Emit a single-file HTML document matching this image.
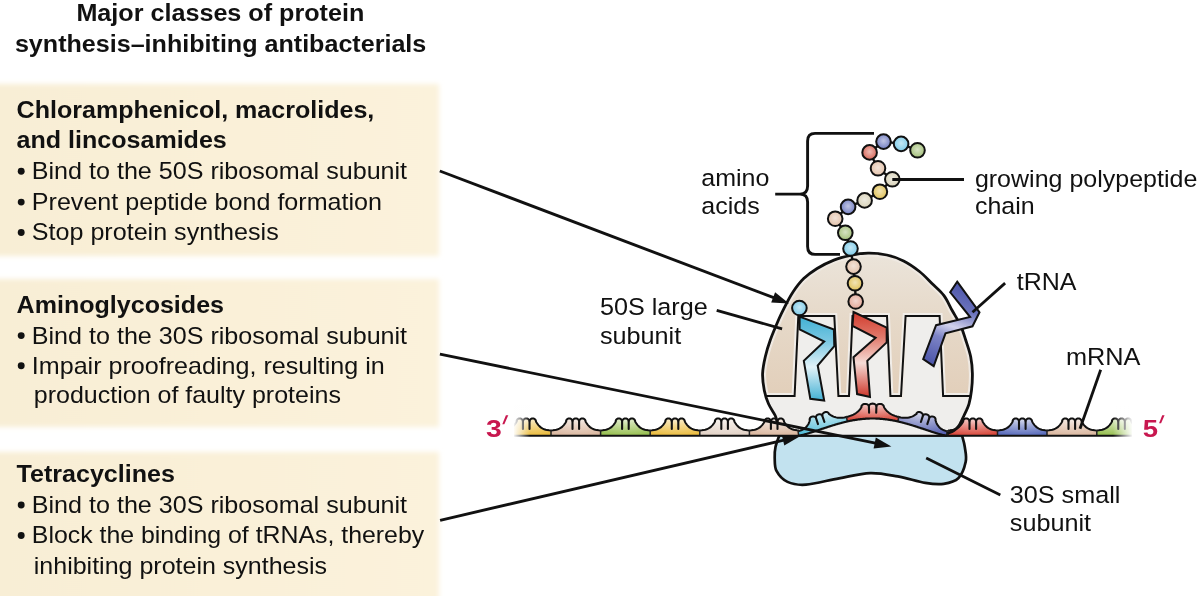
<!DOCTYPE html>
<html><head><meta charset="utf-8"><style>
html,body{margin:0;padding:0;background:#fff;}
body{width:1198px;height:596px;position:relative;overflow:hidden;font-family:"Liberation Sans",sans-serif;}
svg{will-change:transform;}
</style></head><body>
<svg width="1198" height="596" viewBox="0 0 1198 596" style="position:absolute;left:0;top:0">
<defs>
<radialGradient id="g_yellow" cx="0.5" cy="0" r="1"><stop offset="0" stop-color="#fbf1d8"/><stop offset="0.4" stop-color="#f4da95"/><stop offset="1" stop-color="#ebbd40"/></radialGradient><radialGradient id="g_peach" cx="0.5" cy="0" r="1"><stop offset="0" stop-color="#f7f0ec"/><stop offset="0.4" stop-color="#ebd7ca"/><stop offset="1" stop-color="#dbb8a0"/></radialGradient><radialGradient id="g_green" cx="0.5" cy="0" r="1"><stop offset="0" stop-color="#eaf2dc"/><stop offset="0.4" stop-color="#c6dc9f"/><stop offset="1" stop-color="#98c052"/></radialGradient><radialGradient id="g_cream" cx="0.5" cy="0" r="1"><stop offset="0" stop-color="#f9f6f3"/><stop offset="0.4" stop-color="#efe6df"/><stop offset="1" stop-color="#e2d2c6"/></radialGradient><radialGradient id="g_cyan" cx="0.5" cy="0" r="1"><stop offset="0" stop-color="#dcf1f7"/><stop offset="0.4" stop-color="#9fdae9"/><stop offset="1" stop-color="#52bcd8"/></radialGradient><radialGradient id="g_red" cx="0.5" cy="0" r="1"><stop offset="0" stop-color="#f7dad7"/><stop offset="0.4" stop-color="#e99992"/><stop offset="1" stop-color="#d8473a"/></radialGradient><radialGradient id="g_purple" cx="0.5" cy="0" r="1"><stop offset="0" stop-color="#dddfef"/><stop offset="0.4" stop-color="#a1a7d3"/><stop offset="1" stop-color="#5560b0"/></radialGradient><radialGradient id="g_blue" cx="0.5" cy="0" r="1"><stop offset="0" stop-color="#dee1f1"/><stop offset="0.4" stop-color="#a4aeda"/><stop offset="1" stop-color="#5a6cbc"/></radialGradient>
<linearGradient id="boxg" x1="0" y1="0" x2="1" y2="0"><stop offset="0" stop-color="#f8eed5"/><stop offset="1" stop-color="#fbf2db"/></linearGradient>
<filter id="soft" x="-5%" y="-5%" width="110%" height="110%"><feGaussianBlur stdDeviation="2.6"/></filter>
<linearGradient id="gcyan" gradientUnits="userSpaceOnUse" x1="0" y1="316" x2="0" y2="401"><stop offset="0" stop-color="#3fb0d4"/><stop offset="0.3" stop-color="#7cc8e2"/><stop offset="0.6" stop-color="#e2f2f8"/><stop offset="1" stop-color="#40afd3"/></linearGradient>
<linearGradient id="gred" gradientUnits="userSpaceOnUse" x1="0" y1="312" x2="0" y2="397"><stop offset="0" stop-color="#d23a2c"/><stop offset="0.3" stop-color="#e07a6c"/><stop offset="0.6" stop-color="#f6dcd6"/><stop offset="1" stop-color="#cc3529"/></linearGradient>
<linearGradient id="gpur" gradientUnits="userSpaceOnUse" x1="957" y1="282" x2="928" y2="364"><stop offset="0" stop-color="#4d56aa"/><stop offset="0.28" stop-color="#6b73bc"/><stop offset="0.5" stop-color="#d2d2ec"/><stop offset="0.66" stop-color="#7d84c6"/><stop offset="1" stop-color="#4a53a8"/></linearGradient>
<linearGradient id="gbeige" gradientUnits="userSpaceOnUse" x1="0" y1="254" x2="0" y2="396"><stop offset="0" stop-color="#ebe4da"/><stop offset="0.45" stop-color="#e6d9c9"/><stop offset="1" stop-color="#e2cfba"/></linearGradient>
<linearGradient id="fadeL" x1="0" y1="0" x2="1" y2="0"><stop offset="0" stop-color="#fff" stop-opacity="1"/><stop offset="1" stop-color="#fff" stop-opacity="0"/></linearGradient>
<linearGradient id="fadeR" x1="0" y1="0" x2="1" y2="0"><stop offset="0" stop-color="#fff" stop-opacity="0"/><stop offset="1" stop-color="#fff" stop-opacity="1"/></linearGradient>
<clipPath id="domeclip"><path d="M777.0,422.0 C776.7,420.9 776.6,418.5 775.2,415.5 C773.8,412.5 770.3,408.0 768.5,403.8 C766.7,399.6 765.3,395.4 764.3,390.4 C763.3,385.4 762.4,379.2 762.6,373.6 C762.8,368.0 764.0,362.4 765.3,356.8 C766.6,351.2 768.0,346.3 770.3,340.0 C772.6,333.7 776.5,324.6 779.0,318.8 C781.5,313.0 783.2,309.9 785.5,305.4 C787.8,300.9 790.0,296.5 793.0,292.0 C796.0,287.5 799.7,282.5 803.7,278.6 C807.7,274.7 812.1,271.6 817.1,268.5 C822.1,265.4 828.3,262.3 833.9,260.1 C839.5,257.9 845.0,256.6 850.7,255.4 C856.4,254.2 862.0,253.3 868.0,253.2 C874.0,253.1 880.9,253.7 886.8,255.0 C892.7,256.3 898.1,258.2 903.6,261.0 C909.1,263.8 914.8,267.8 919.5,271.5 C924.2,275.2 928.0,279.5 932.0,283.5 C936.0,287.5 940.4,290.9 943.8,295.4 C947.2,299.9 949.4,305.5 952.2,310.5 C955.0,315.5 958.4,320.7 960.6,325.6 C962.9,330.5 964.0,334.8 965.7,340.0 C967.4,345.2 969.6,351.2 970.7,356.8 C971.8,362.4 972.3,368.0 972.4,373.6 C972.5,379.2 972.1,385.4 971.5,390.4 C970.9,395.4 970.2,399.6 969.0,403.8 C967.8,408.0 965.7,411.9 964.0,415.5 C962.3,419.1 960.7,423.1 959.0,425.6 C957.3,428.1 955.9,429.3 953.9,430.6 C951.9,431.9 948.3,433.1 947.2,433.6 L947,436 L777,436Z"/></clipPath>
</defs>
<rect x="-10" y="84" width="449" height="172" fill="url(#boxg)" filter="url(#soft)"/>
<rect x="-10" y="279" width="449" height="148" fill="url(#boxg)" filter="url(#soft)"/>
<rect x="-10" y="452" width="449" height="160" fill="url(#boxg)" filter="url(#soft)"/>
<g font-family="Liberation Sans, sans-serif"><g font-size="24.4"><text x="76.4" y="20.9" font-size="24.4" font-weight="bold" fill="#111" textLength="287.9" lengthAdjust="spacingAndGlyphs">Major classes of protein</text><text x="14.9" y="51.6" font-size="24.4" font-weight="bold" fill="#111" textLength="411.4" lengthAdjust="spacingAndGlyphs">synthesis–inhibiting antibacterials</text></g><text x="16.6" y="118.4" font-size="24.4" font-weight="bold" fill="#111" textLength="357.7" lengthAdjust="spacingAndGlyphs">Chloramphenicol, macrolides,</text><text x="16.6" y="148.4" font-size="24.4" font-weight="bold" fill="#111" textLength="210.2" lengthAdjust="spacingAndGlyphs">and lincosamides</text><circle cx="21.2" cy="171.2" r="3.45" fill="#111"/><text x="31.8" y="179.1" font-size="24.0"  fill="#111" textLength="375.3" lengthAdjust="spacingAndGlyphs">Bind to the 50S ribosomal subunit</text><circle cx="21.2" cy="202.1" r="3.45" fill="#111"/><text x="31.8" y="210.0" font-size="24.0"  fill="#111" textLength="350.2" lengthAdjust="spacingAndGlyphs">Prevent peptide bond formation</text><circle cx="21.2" cy="232.5" r="3.45" fill="#111"/><text x="31.8" y="240.4" font-size="24.0"  fill="#111" textLength="246.9" lengthAdjust="spacingAndGlyphs">Stop protein synthesis</text><text x="16.6" y="312.6" font-size="24.4" font-weight="bold" fill="#111" textLength="207.4" lengthAdjust="spacingAndGlyphs">Aminoglycosides</text><circle cx="21.2" cy="335.6" r="3.45" fill="#111"/><text x="31.8" y="343.5" font-size="24.0"  fill="#111" textLength="375.3" lengthAdjust="spacingAndGlyphs">Bind to the 30S ribosomal subunit</text><circle cx="21.2" cy="365.7" r="3.45" fill="#111"/><text x="31.8" y="373.6" font-size="24.0"  fill="#111" textLength="353.0" lengthAdjust="spacingAndGlyphs">Impair proofreading, resulting in</text><text x="33.8" y="403.3" font-size="24.0"  fill="#111" textLength="307.1" lengthAdjust="spacingAndGlyphs">production of faulty proteins</text><text x="16.6" y="482.1" font-size="24.4" font-weight="bold" fill="#111" textLength="158.3" lengthAdjust="spacingAndGlyphs">Tetracyclines</text><circle cx="21.2" cy="505.0" r="3.45" fill="#111"/><text x="31.8" y="512.9" font-size="24.0"  fill="#111" textLength="375.3" lengthAdjust="spacingAndGlyphs">Bind to the 30S ribosomal subunit</text><circle cx="21.2" cy="535.5" r="3.45" fill="#111"/><text x="31.8" y="543.4" font-size="24.0"  fill="#111" textLength="392.4" lengthAdjust="spacingAndGlyphs">Block the binding of tRNAs, thereby</text><text x="33.8" y="573.7" font-size="24.0"  fill="#111" textLength="293.2" lengthAdjust="spacingAndGlyphs">inhibiting protein synthesis</text></g>
<path d="M779.3,435.5 C778.7,437.4 776.3,443.2 775.5,447.0 C774.7,450.8 774.5,454.0 774.7,458.0 C774.9,462.0 774.4,466.9 776.5,470.9 C778.6,474.9 782.6,479.6 787.5,481.9 C792.4,484.2 797.4,485.3 806.0,484.7 C814.6,484.1 828.3,480.2 839.0,478.3 C849.7,476.4 860.4,473.4 870.2,473.1 C880.0,472.8 888.5,474.8 897.7,476.4 C906.9,478.0 917.6,481.7 925.3,482.9 C933.0,484.1 938.2,484.6 943.7,483.8 C949.2,483.0 954.6,482.0 958.3,478.3 C962.0,474.6 964.6,466.9 965.7,461.7 C966.8,456.5 965.4,451.4 964.8,447.0 C964.2,442.6 962.5,437.4 962.0,435.5Z" fill="#c2e2ef" stroke="#111" stroke-width="2.7"/>
<path d="M777.0,422.0 C776.7,420.9 776.6,418.5 775.2,415.5 C773.8,412.5 770.3,408.0 768.5,403.8 C766.7,399.6 765.3,395.4 764.3,390.4 C763.3,385.4 762.4,379.2 762.6,373.6 C762.8,368.0 764.0,362.4 765.3,356.8 C766.6,351.2 768.0,346.3 770.3,340.0 C772.6,333.7 776.5,324.6 779.0,318.8 C781.5,313.0 783.2,309.9 785.5,305.4 C787.8,300.9 790.0,296.5 793.0,292.0 C796.0,287.5 799.7,282.5 803.7,278.6 C807.7,274.7 812.1,271.6 817.1,268.5 C822.1,265.4 828.3,262.3 833.9,260.1 C839.5,257.9 845.0,256.6 850.7,255.4 C856.4,254.2 862.0,253.3 868.0,253.2 C874.0,253.1 880.9,253.7 886.8,255.0 C892.7,256.3 898.1,258.2 903.6,261.0 C909.1,263.8 914.8,267.8 919.5,271.5 C924.2,275.2 928.0,279.5 932.0,283.5 C936.0,287.5 940.4,290.9 943.8,295.4 C947.2,299.9 949.4,305.5 952.2,310.5 C955.0,315.5 958.4,320.7 960.6,325.6 C962.9,330.5 964.0,334.8 965.7,340.0 C967.4,345.2 969.6,351.2 970.7,356.8 C971.8,362.4 972.3,368.0 972.4,373.6 C972.5,379.2 972.1,385.4 971.5,390.4 C970.9,395.4 970.2,399.6 969.0,403.8 C967.8,408.0 965.7,411.9 964.0,415.5 C962.3,419.1 960.7,423.1 959.0,425.6 C957.3,428.1 955.9,429.3 953.9,430.6 C951.9,431.9 948.3,433.1 947.2,433.6 L947,436 L777,436Z" fill="url(#gbeige)"/>
<g clip-path="url(#domeclip)"><path d="M777.0,422.0 C776.7,420.9 776.6,418.5 775.2,415.5 C773.8,412.5 770.3,408.0 768.5,403.8 C766.7,399.6 765.3,395.4 764.3,390.4 C763.3,385.4 762.4,379.2 762.6,373.6 C762.8,368.0 764.0,362.4 765.3,356.8 C766.6,351.2 768.0,346.3 770.3,340.0 C772.6,333.7 776.5,324.6 779.0,318.8 C781.5,313.0 783.2,309.9 785.5,305.4 C787.8,300.9 790.0,296.5 793.0,292.0 C796.0,287.5 799.7,282.5 803.7,278.6 C807.7,274.7 812.1,271.6 817.1,268.5 C822.1,265.4 828.3,262.3 833.9,260.1 C839.5,257.9 845.0,256.6 850.7,255.4 C856.4,254.2 862.0,253.3 868.0,253.2 C874.0,253.1 880.9,253.7 886.8,255.0 C892.7,256.3 898.1,258.2 903.6,261.0 C909.1,263.8 914.8,267.8 919.5,271.5 C924.2,275.2 928.0,279.5 932.0,283.5 C936.0,287.5 940.4,290.9 943.8,295.4 C947.2,299.9 949.4,305.5 952.2,310.5 C955.0,315.5 958.4,320.7 960.6,325.6 C962.9,330.5 964.0,334.8 965.7,340.0 C967.4,345.2 969.6,351.2 970.7,356.8 C971.8,362.4 972.3,368.0 972.4,373.6 C972.5,379.2 972.1,385.4 971.5,390.4 C970.9,395.4 970.2,399.6 969.0,403.8 C967.8,408.0 965.7,411.9 964.0,415.5 C962.3,419.1 960.7,423.1 959.0,425.6 C957.3,428.1 955.9,429.3 953.9,430.6 C951.9,431.9 948.3,433.1 947.2,433.6" fill="none" stroke="#efe9e2" stroke-width="7"/><path d="M740.0,396.0 L794.6,396.0 L798.3,316.0 L834.3,316.0 L838.4,396.0 L849.0,396.0 L852.5,316.0 L887.0,316.0 L890.4,396.0 L901.0,396.0 L905.6,316.0 L939.6,316.0 L943.1,396.0 L1000.0,396.0 L1000.0,440.0 L740.0,440.0Z" fill="#efeeec"/><path d="M740,396 L794.6,396.0 L798.3,316.0 L834.3,316.0 L838.4,396.0 L849.0,396.0 L852.5,316.0 L887.0,316.0 L890.4,396.0 L901.0,396.0 L905.6,316.0 L939.6,316.0 L943.1,396.0 L1000,396" fill="none" stroke="#f1ede8" stroke-width="6"/><path d="M740,396 L794.6,396.0 L798.3,316.0 L834.3,316.0 L838.4,396.0 L849.0,396.0 L852.5,316.0 L887.0,316.0 L890.4,396.0 L901.0,396.0 L905.6,316.0 L939.6,316.0 L943.1,396.0 L1000,396" fill="none" stroke="#111" stroke-width="2"/></g>
<path d="M501.4,430.4 L503.3,430.3 L505.1,430.1 L506.8,429.7 L508.3,429.2 L509.7,428.6 L511.0,427.9 L512.2,427.1 L513.2,426.1 L514.2,425.1 L515.1,424.0 L515.9,422.8 L516.6,421.5 L516.5,420.8 L516.8,420.1 L517.3,419.4 L518.0,418.8 L518.8,418.5 L519.6,418.4 L520.5,418.5 L521.3,418.8 L522.0,419.4 L522.5,420.1 L522.8,420.8 L522.9,421.7 L523.0,420.8 L523.3,420.1 L523.9,419.4 L524.5,418.8 L525.3,418.5 L526.2,418.4 L527.1,418.5 L527.9,418.8 L528.5,419.4 L529.1,420.1 L529.4,420.8 L529.5,421.7 L529.6,420.8 L529.9,420.1 L530.4,419.4 L531.1,418.8 L531.9,418.5 L532.8,418.4 L533.6,418.5 L534.4,418.8 L535.1,419.4 L535.6,420.1 L535.9,420.8 L536.0,421.7 L536.7,422.8 L537.5,424.0 L538.4,425.1 L539.3,426.1 L540.4,427.1 L541.5,427.9 L542.8,428.6 L544.2,429.2 L545.7,429.7 L547.3,430.1 L549.1,430.3 L551.0,430.4 L551.0,435.7 L548.5,435.7 L546.0,435.7 L543.6,435.7 L541.1,435.7 L538.6,435.7 L536.1,435.7 L533.6,435.7 L531.2,435.7 L528.7,435.7 L526.2,435.7 L523.7,435.7 L521.2,435.7 L518.8,435.7 L516.3,435.7 L513.8,435.7 L511.3,435.7 L508.8,435.7 L506.4,435.7 L503.9,435.7 L501.4,435.7Z" fill="url(#g_yellow)"/><path d="M501.4,430.4 L503.3,430.3 L505.1,430.1 L506.8,429.7 L508.3,429.2 L509.7,428.6 L511.0,427.9 L512.2,427.1 L513.2,426.1 L514.2,425.1 L515.1,424.0 L515.9,422.8 L516.6,421.5 L516.5,420.8 L516.8,420.1 L517.3,419.4 L518.0,418.8 L518.8,418.5 L519.6,418.4 L520.5,418.5 L521.3,418.8 L522.0,419.4 L522.5,420.1 L522.8,420.8 L522.9,421.7 L523.0,420.8 L523.3,420.1 L523.9,419.4 L524.5,418.8 L525.3,418.5 L526.2,418.4 L527.1,418.5 L527.9,418.8 L528.5,419.4 L529.1,420.1 L529.4,420.8 L529.5,421.7 L529.6,420.8 L529.9,420.1 L530.4,419.4 L531.1,418.8 L531.9,418.5 L532.8,418.4 L533.6,418.5 L534.4,418.8 L535.1,419.4 L535.6,420.1 L535.9,420.8 L536.0,421.7 L536.7,422.8 L537.5,424.0 L538.4,425.1 L539.3,426.1 L540.4,427.1 L541.5,427.9 L542.8,428.6 L544.2,429.2 L545.7,429.7 L547.3,430.1 L549.1,430.3 L551.0,430.4" fill="none" stroke="#111" stroke-width="2"/><path d="M522.9,421.7 L522.9,428.9" stroke="#111" stroke-width="2.1" stroke-linecap="round"/><path d="M529.5,421.7 L529.5,428.9" stroke="#111" stroke-width="2.1" stroke-linecap="round"/><path d="M551.0,430.4 L552.9,430.3 L554.7,430.1 L556.4,429.7 L557.9,429.2 L559.3,428.6 L560.6,427.9 L561.8,427.1 L562.8,426.1 L563.8,425.1 L564.7,424.0 L565.5,422.8 L566.2,421.5 L566.1,420.8 L566.4,420.1 L566.9,419.4 L567.6,418.8 L568.4,418.5 L569.2,418.4 L570.1,418.5 L570.9,418.8 L571.6,419.4 L572.1,420.1 L572.4,420.8 L572.5,421.7 L572.6,420.8 L572.9,420.1 L573.5,419.4 L574.1,418.8 L574.9,418.5 L575.8,418.4 L576.7,418.5 L577.5,418.8 L578.1,419.4 L578.7,420.1 L579.0,420.8 L579.1,421.7 L579.2,420.8 L579.5,420.1 L580.0,419.4 L580.7,418.8 L581.5,418.5 L582.4,418.4 L583.2,418.5 L584.0,418.8 L584.7,419.4 L585.2,420.1 L585.5,420.8 L585.6,421.7 L586.3,422.8 L587.1,424.0 L588.0,425.1 L588.9,426.1 L590.0,427.1 L591.1,427.9 L592.4,428.6 L593.8,429.2 L595.3,429.7 L596.9,430.1 L598.7,430.3 L600.6,430.4 L600.6,435.7 L598.1,435.7 L595.6,435.7 L593.2,435.7 L590.7,435.7 L588.2,435.7 L585.7,435.7 L583.2,435.7 L580.8,435.7 L578.3,435.7 L575.8,435.7 L573.3,435.7 L570.8,435.7 L568.4,435.7 L565.9,435.7 L563.4,435.7 L560.9,435.7 L558.4,435.7 L556.0,435.7 L553.5,435.7 L551.0,435.7Z" fill="url(#g_peach)"/><path d="M551.0,430.4 L552.9,430.3 L554.7,430.1 L556.4,429.7 L557.9,429.2 L559.3,428.6 L560.6,427.9 L561.8,427.1 L562.8,426.1 L563.8,425.1 L564.7,424.0 L565.5,422.8 L566.2,421.5 L566.1,420.8 L566.4,420.1 L566.9,419.4 L567.6,418.8 L568.4,418.5 L569.2,418.4 L570.1,418.5 L570.9,418.8 L571.6,419.4 L572.1,420.1 L572.4,420.8 L572.5,421.7 L572.6,420.8 L572.9,420.1 L573.5,419.4 L574.1,418.8 L574.9,418.5 L575.8,418.4 L576.7,418.5 L577.5,418.8 L578.1,419.4 L578.7,420.1 L579.0,420.8 L579.1,421.7 L579.2,420.8 L579.5,420.1 L580.0,419.4 L580.7,418.8 L581.5,418.5 L582.4,418.4 L583.2,418.5 L584.0,418.8 L584.7,419.4 L585.2,420.1 L585.5,420.8 L585.6,421.7 L586.3,422.8 L587.1,424.0 L588.0,425.1 L588.9,426.1 L590.0,427.1 L591.1,427.9 L592.4,428.6 L593.8,429.2 L595.3,429.7 L596.9,430.1 L598.7,430.3 L600.6,430.4" fill="none" stroke="#111" stroke-width="2"/><path d="M572.5,421.7 L572.5,428.9" stroke="#111" stroke-width="2.1" stroke-linecap="round"/><path d="M579.1,421.7 L579.1,428.9" stroke="#111" stroke-width="2.1" stroke-linecap="round"/><path d="M600.6,430.4 L602.5,430.3 L604.3,430.1 L606.0,429.7 L607.5,429.2 L608.9,428.6 L610.2,427.9 L611.4,427.1 L612.4,426.1 L613.4,425.1 L614.3,424.0 L615.1,422.8 L615.8,421.5 L615.7,420.8 L616.0,420.1 L616.5,419.4 L617.2,418.8 L618.0,418.5 L618.9,418.4 L619.7,418.5 L620.5,418.8 L621.2,419.4 L621.7,420.1 L622.0,420.8 L622.1,421.7 L622.2,420.8 L622.5,420.1 L623.1,419.4 L623.8,418.8 L624.5,418.5 L625.4,418.4 L626.3,418.5 L627.1,418.8 L627.7,419.4 L628.3,420.1 L628.6,420.8 L628.7,421.7 L628.8,420.8 L629.1,420.1 L629.6,419.4 L630.3,418.8 L631.1,418.5 L632.0,418.4 L632.8,418.5 L633.6,418.8 L634.3,419.4 L634.8,420.1 L635.1,420.8 L635.2,421.7 L635.9,422.8 L636.7,424.0 L637.6,425.1 L638.5,426.1 L639.6,427.1 L640.7,427.9 L642.0,428.6 L643.4,429.2 L644.9,429.7 L646.5,430.1 L648.3,430.3 L650.2,430.4 L650.2,435.7 L647.7,435.7 L645.2,435.7 L642.8,435.7 L640.3,435.7 L637.8,435.7 L635.3,435.7 L632.8,435.7 L630.4,435.7 L627.9,435.7 L625.4,435.7 L622.9,435.7 L620.4,435.7 L618.0,435.7 L615.5,435.7 L613.0,435.7 L610.5,435.7 L608.0,435.7 L605.6,435.7 L603.1,435.7 L600.6,435.7Z" fill="url(#g_green)"/><path d="M600.6,430.4 L602.5,430.3 L604.3,430.1 L606.0,429.7 L607.5,429.2 L608.9,428.6 L610.2,427.9 L611.4,427.1 L612.4,426.1 L613.4,425.1 L614.3,424.0 L615.1,422.8 L615.8,421.5 L615.7,420.8 L616.0,420.1 L616.5,419.4 L617.2,418.8 L618.0,418.5 L618.9,418.4 L619.7,418.5 L620.5,418.8 L621.2,419.4 L621.7,420.1 L622.0,420.8 L622.1,421.7 L622.2,420.8 L622.5,420.1 L623.1,419.4 L623.8,418.8 L624.5,418.5 L625.4,418.4 L626.3,418.5 L627.1,418.8 L627.7,419.4 L628.3,420.1 L628.6,420.8 L628.7,421.7 L628.8,420.8 L629.1,420.1 L629.6,419.4 L630.3,418.8 L631.1,418.5 L632.0,418.4 L632.8,418.5 L633.6,418.8 L634.3,419.4 L634.8,420.1 L635.1,420.8 L635.2,421.7 L635.9,422.8 L636.7,424.0 L637.6,425.1 L638.5,426.1 L639.6,427.1 L640.7,427.9 L642.0,428.6 L643.4,429.2 L644.9,429.7 L646.5,430.1 L648.3,430.3 L650.2,430.4" fill="none" stroke="#111" stroke-width="2"/><path d="M622.1,421.7 L622.1,428.9" stroke="#111" stroke-width="2.1" stroke-linecap="round"/><path d="M628.7,421.7 L628.7,428.9" stroke="#111" stroke-width="2.1" stroke-linecap="round"/><path d="M650.2,430.4 L652.1,430.3 L653.9,430.1 L655.6,429.7 L657.1,429.2 L658.5,428.6 L659.8,427.9 L661.0,427.1 L662.0,426.1 L663.0,425.1 L663.9,424.0 L664.7,422.8 L665.4,421.5 L665.3,420.8 L665.6,420.1 L666.1,419.4 L666.8,418.8 L667.6,418.5 L668.5,418.4 L669.3,418.5 L670.1,418.8 L670.8,419.4 L671.3,420.1 L671.6,420.8 L671.8,421.7 L671.8,420.8 L672.1,420.1 L672.7,419.4 L673.4,418.8 L674.1,418.5 L675.0,418.4 L675.9,418.5 L676.7,418.8 L677.3,419.4 L677.9,420.1 L678.2,420.8 L678.3,421.7 L678.4,420.8 L678.7,420.1 L679.2,419.4 L679.9,418.8 L680.7,418.5 L681.6,418.4 L682.4,418.5 L683.2,418.8 L683.9,419.4 L684.4,420.1 L684.7,420.8 L684.9,421.7 L685.5,422.8 L686.3,424.0 L687.2,425.1 L688.1,426.1 L689.2,427.1 L690.3,427.9 L691.6,428.6 L693.0,429.2 L694.5,429.7 L696.1,430.1 L697.9,430.3 L699.8,430.4 L699.8,435.7 L697.3,435.7 L694.8,435.7 L692.4,435.7 L689.9,435.7 L687.4,435.7 L684.9,435.7 L682.4,435.7 L680.0,435.7 L677.5,435.7 L675.0,435.7 L672.5,435.7 L670.0,435.7 L667.6,435.7 L665.1,435.7 L662.6,435.7 L660.1,435.7 L657.6,435.7 L655.2,435.7 L652.7,435.7 L650.2,435.7Z" fill="url(#g_yellow)"/><path d="M650.2,430.4 L652.1,430.3 L653.9,430.1 L655.6,429.7 L657.1,429.2 L658.5,428.6 L659.8,427.9 L661.0,427.1 L662.0,426.1 L663.0,425.1 L663.9,424.0 L664.7,422.8 L665.4,421.5 L665.3,420.8 L665.6,420.1 L666.1,419.4 L666.8,418.8 L667.6,418.5 L668.5,418.4 L669.3,418.5 L670.1,418.8 L670.8,419.4 L671.3,420.1 L671.6,420.8 L671.8,421.7 L671.8,420.8 L672.1,420.1 L672.7,419.4 L673.4,418.8 L674.1,418.5 L675.0,418.4 L675.9,418.5 L676.7,418.8 L677.3,419.4 L677.9,420.1 L678.2,420.8 L678.3,421.7 L678.4,420.8 L678.7,420.1 L679.2,419.4 L679.9,418.8 L680.7,418.5 L681.6,418.4 L682.4,418.5 L683.2,418.8 L683.9,419.4 L684.4,420.1 L684.7,420.8 L684.9,421.7 L685.5,422.8 L686.3,424.0 L687.2,425.1 L688.1,426.1 L689.2,427.1 L690.3,427.9 L691.6,428.6 L693.0,429.2 L694.5,429.7 L696.1,430.1 L697.9,430.3 L699.8,430.4" fill="none" stroke="#111" stroke-width="2"/><path d="M671.8,421.7 L671.8,428.9" stroke="#111" stroke-width="2.1" stroke-linecap="round"/><path d="M678.3,421.7 L678.3,428.9" stroke="#111" stroke-width="2.1" stroke-linecap="round"/><path d="M699.8,430.4 L701.7,430.3 L703.5,430.1 L705.2,429.7 L706.7,429.2 L708.1,428.6 L709.4,427.9 L710.6,427.1 L711.6,426.1 L712.6,425.1 L713.5,424.0 L714.3,422.8 L715.0,421.5 L714.9,420.8 L715.2,420.1 L715.7,419.4 L716.4,418.8 L717.2,418.5 L718.0,418.4 L718.9,418.5 L719.7,418.8 L720.4,419.4 L720.9,420.1 L721.2,420.8 L721.3,421.7 L721.4,420.8 L721.7,420.1 L722.3,419.4 L722.9,418.8 L723.7,418.5 L724.6,418.4 L725.5,418.5 L726.2,418.8 L726.9,419.4 L727.5,420.1 L727.8,420.8 L727.9,421.7 L728.0,420.8 L728.3,420.1 L728.8,419.4 L729.5,418.8 L730.3,418.5 L731.1,418.4 L732.0,418.5 L732.8,418.8 L733.5,419.4 L734.0,420.1 L734.3,420.8 L734.4,421.7 L735.1,422.8 L735.9,424.0 L736.8,425.1 L737.7,426.1 L738.8,427.1 L739.9,427.9 L741.2,428.6 L742.6,429.2 L744.1,429.7 L745.7,430.1 L747.5,430.3 L749.4,430.4 L749.4,435.7 L746.9,435.7 L744.4,435.7 L742.0,435.7 L739.5,435.7 L737.0,435.7 L734.5,435.7 L732.0,435.7 L729.6,435.7 L727.1,435.7 L724.6,435.7 L722.1,435.7 L719.6,435.7 L717.2,435.7 L714.7,435.7 L712.2,435.7 L709.7,435.7 L707.2,435.7 L704.8,435.7 L702.3,435.7 L699.8,435.7Z" fill="url(#g_cream)"/><path d="M699.8,430.4 L701.7,430.3 L703.5,430.1 L705.2,429.7 L706.7,429.2 L708.1,428.6 L709.4,427.9 L710.6,427.1 L711.6,426.1 L712.6,425.1 L713.5,424.0 L714.3,422.8 L715.0,421.5 L714.9,420.8 L715.2,420.1 L715.7,419.4 L716.4,418.8 L717.2,418.5 L718.0,418.4 L718.9,418.5 L719.7,418.8 L720.4,419.4 L720.9,420.1 L721.2,420.8 L721.3,421.7 L721.4,420.8 L721.7,420.1 L722.3,419.4 L722.9,418.8 L723.7,418.5 L724.6,418.4 L725.5,418.5 L726.2,418.8 L726.9,419.4 L727.5,420.1 L727.8,420.8 L727.9,421.7 L728.0,420.8 L728.3,420.1 L728.8,419.4 L729.5,418.8 L730.3,418.5 L731.1,418.4 L732.0,418.5 L732.8,418.8 L733.5,419.4 L734.0,420.1 L734.3,420.8 L734.4,421.7 L735.1,422.8 L735.9,424.0 L736.8,425.1 L737.7,426.1 L738.8,427.1 L739.9,427.9 L741.2,428.6 L742.6,429.2 L744.1,429.7 L745.7,430.1 L747.5,430.3 L749.4,430.4" fill="none" stroke="#111" stroke-width="2"/><path d="M721.3,421.7 L721.3,428.9" stroke="#111" stroke-width="2.1" stroke-linecap="round"/><path d="M727.9,421.7 L727.9,428.9" stroke="#111" stroke-width="2.1" stroke-linecap="round"/><path d="M749.4,430.4 L751.3,430.3 L753.1,430.1 L754.8,429.7 L756.3,429.2 L757.7,428.6 L759.0,427.9 L760.2,427.1 L761.2,426.1 L762.2,425.1 L763.1,424.0 L763.9,422.8 L764.6,421.5 L764.5,420.8 L764.8,420.1 L765.3,419.4 L766.0,418.8 L766.8,418.5 L767.6,418.4 L768.5,418.5 L769.3,418.8 L770.0,419.4 L770.5,420.1 L770.8,420.8 L770.9,421.7 L771.0,420.8 L771.3,420.1 L771.9,419.4 L772.5,418.8 L773.3,418.5 L774.2,418.4 L775.1,418.5 L775.9,418.8 L776.5,419.4 L777.1,420.1 L777.4,420.8 L777.5,421.7 L777.6,420.8 L777.9,420.1 L778.4,419.4 L779.1,418.8 L779.9,418.5 L780.8,418.4 L781.6,418.5 L782.4,418.8 L783.1,419.4 L783.6,420.1 L783.9,420.8 L784.0,421.7 L784.7,422.8 L785.5,424.0 L786.4,425.1 L787.3,426.1 L788.4,427.1 L789.5,427.9 L790.8,428.6 L792.2,429.2 L793.7,429.7 L795.3,430.1 L797.1,430.3 L799.0,430.4 L799.0,435.7 L796.5,435.7 L794.0,435.7 L791.6,435.7 L789.1,435.7 L786.6,435.7 L784.1,435.7 L781.6,435.7 L779.2,435.7 L776.7,435.7 L774.2,435.7 L771.7,435.7 L769.2,435.7 L766.8,435.7 L764.3,435.7 L761.8,435.7 L759.3,435.7 L756.8,435.7 L754.4,435.7 L751.9,435.7 L749.4,435.7Z" fill="url(#g_peach)"/><path d="M749.4,430.4 L751.3,430.3 L753.1,430.1 L754.8,429.7 L756.3,429.2 L757.7,428.6 L759.0,427.9 L760.2,427.1 L761.2,426.1 L762.2,425.1 L763.1,424.0 L763.9,422.8 L764.6,421.5 L764.5,420.8 L764.8,420.1 L765.3,419.4 L766.0,418.8 L766.8,418.5 L767.6,418.4 L768.5,418.5 L769.3,418.8 L770.0,419.4 L770.5,420.1 L770.8,420.8 L770.9,421.7 L771.0,420.8 L771.3,420.1 L771.9,419.4 L772.5,418.8 L773.3,418.5 L774.2,418.4 L775.1,418.5 L775.9,418.8 L776.5,419.4 L777.1,420.1 L777.4,420.8 L777.5,421.7 L777.6,420.8 L777.9,420.1 L778.4,419.4 L779.1,418.8 L779.9,418.5 L780.8,418.4 L781.6,418.5 L782.4,418.8 L783.1,419.4 L783.6,420.1 L783.9,420.8 L784.0,421.7 L784.7,422.8 L785.5,424.0 L786.4,425.1 L787.3,426.1 L788.4,427.1 L789.5,427.9 L790.8,428.6 L792.2,429.2 L793.7,429.7 L795.3,430.1 L797.1,430.3 L799.0,430.4" fill="none" stroke="#111" stroke-width="2"/><path d="M770.9,421.7 L770.9,428.9" stroke="#111" stroke-width="2.1" stroke-linecap="round"/><path d="M777.5,421.7 L777.5,428.9" stroke="#111" stroke-width="2.1" stroke-linecap="round"/><path d="M948.0,430.4 L949.9,430.3 L951.7,430.1 L953.4,429.7 L954.9,429.2 L956.3,428.6 L957.6,427.9 L958.8,427.1 L959.8,426.1 L960.8,425.1 L961.7,424.0 L962.5,422.8 L963.2,421.5 L963.1,420.8 L963.4,420.1 L963.9,419.4 L964.6,418.8 L965.4,418.5 L966.2,418.4 L967.1,418.5 L967.9,418.8 L968.6,419.4 L969.1,420.1 L969.4,420.8 L969.5,421.7 L969.6,420.8 L969.9,420.1 L970.5,419.4 L971.1,418.8 L971.9,418.5 L972.8,418.4 L973.7,418.5 L974.5,418.8 L975.1,419.4 L975.7,420.1 L976.0,420.8 L976.1,421.7 L976.2,420.8 L976.5,420.1 L977.0,419.4 L977.7,418.8 L978.5,418.5 L979.4,418.4 L980.2,418.5 L981.0,418.8 L981.7,419.4 L982.2,420.1 L982.5,420.8 L982.6,421.7 L983.3,422.8 L984.1,424.0 L985.0,425.1 L985.9,426.1 L987.0,427.1 L988.1,427.9 L989.4,428.6 L990.8,429.2 L992.3,429.7 L993.9,430.1 L995.7,430.3 L997.6,430.4 L997.6,435.7 L995.1,435.7 L992.6,435.7 L990.2,435.7 L987.7,435.7 L985.2,435.7 L982.7,435.7 L980.2,435.7 L977.8,435.7 L975.3,435.7 L972.8,435.7 L970.3,435.7 L967.8,435.7 L965.4,435.7 L962.9,435.7 L960.4,435.7 L957.9,435.7 L955.4,435.7 L953.0,435.7 L950.5,435.7 L948.0,435.7Z" fill="url(#g_red)"/><path d="M948.0,430.4 L949.9,430.3 L951.7,430.1 L953.4,429.7 L954.9,429.2 L956.3,428.6 L957.6,427.9 L958.8,427.1 L959.8,426.1 L960.8,425.1 L961.7,424.0 L962.5,422.8 L963.2,421.5 L963.1,420.8 L963.4,420.1 L963.9,419.4 L964.6,418.8 L965.4,418.5 L966.2,418.4 L967.1,418.5 L967.9,418.8 L968.6,419.4 L969.1,420.1 L969.4,420.8 L969.5,421.7 L969.6,420.8 L969.9,420.1 L970.5,419.4 L971.1,418.8 L971.9,418.5 L972.8,418.4 L973.7,418.5 L974.5,418.8 L975.1,419.4 L975.7,420.1 L976.0,420.8 L976.1,421.7 L976.2,420.8 L976.5,420.1 L977.0,419.4 L977.7,418.8 L978.5,418.5 L979.4,418.4 L980.2,418.5 L981.0,418.8 L981.7,419.4 L982.2,420.1 L982.5,420.8 L982.6,421.7 L983.3,422.8 L984.1,424.0 L985.0,425.1 L985.9,426.1 L987.0,427.1 L988.1,427.9 L989.4,428.6 L990.8,429.2 L992.3,429.7 L993.9,430.1 L995.7,430.3 L997.6,430.4" fill="none" stroke="#111" stroke-width="2"/><path d="M969.5,421.7 L969.5,428.9" stroke="#111" stroke-width="2.1" stroke-linecap="round"/><path d="M976.1,421.7 L976.1,428.9" stroke="#111" stroke-width="2.1" stroke-linecap="round"/><path d="M997.5,430.4 L999.4,430.3 L1001.2,430.1 L1002.9,429.7 L1004.4,429.2 L1005.8,428.6 L1007.1,427.9 L1008.3,427.1 L1009.3,426.1 L1010.3,425.1 L1011.2,424.0 L1012.0,422.8 L1012.7,421.5 L1012.6,420.8 L1012.9,420.1 L1013.4,419.4 L1014.1,418.8 L1014.9,418.5 L1015.8,418.4 L1016.6,418.5 L1017.4,418.8 L1018.1,419.4 L1018.6,420.1 L1018.9,420.8 L1019.0,421.7 L1019.1,420.8 L1019.4,420.1 L1020.0,419.4 L1020.6,418.8 L1021.4,418.5 L1022.3,418.4 L1023.2,418.5 L1024.0,418.8 L1024.6,419.4 L1025.2,420.1 L1025.5,420.8 L1025.6,421.7 L1025.7,420.8 L1026.0,420.1 L1026.5,419.4 L1027.2,418.8 L1028.0,418.5 L1028.8,418.4 L1029.7,418.5 L1030.5,418.8 L1031.2,419.4 L1031.7,420.1 L1032.0,420.8 L1032.2,421.7 L1032.8,422.8 L1033.6,424.0 L1034.5,425.1 L1035.4,426.1 L1036.5,427.1 L1037.6,427.9 L1038.9,428.6 L1040.3,429.2 L1041.8,429.7 L1043.4,430.1 L1045.2,430.3 L1047.1,430.4 L1047.1,435.7 L1044.6,435.7 L1042.1,435.7 L1039.7,435.7 L1037.2,435.7 L1034.7,435.7 L1032.2,435.7 L1029.7,435.7 L1027.3,435.7 L1024.8,435.7 L1022.3,435.7 L1019.8,435.7 L1017.3,435.7 L1014.9,435.7 L1012.4,435.7 L1009.9,435.7 L1007.4,435.7 L1004.9,435.7 L1002.5,435.7 L1000.0,435.7 L997.5,435.7Z" fill="url(#g_blue)"/><path d="M997.5,430.4 L999.4,430.3 L1001.2,430.1 L1002.9,429.7 L1004.4,429.2 L1005.8,428.6 L1007.1,427.9 L1008.3,427.1 L1009.3,426.1 L1010.3,425.1 L1011.2,424.0 L1012.0,422.8 L1012.7,421.5 L1012.6,420.8 L1012.9,420.1 L1013.4,419.4 L1014.1,418.8 L1014.9,418.5 L1015.8,418.4 L1016.6,418.5 L1017.4,418.8 L1018.1,419.4 L1018.6,420.1 L1018.9,420.8 L1019.0,421.7 L1019.1,420.8 L1019.4,420.1 L1020.0,419.4 L1020.6,418.8 L1021.4,418.5 L1022.3,418.4 L1023.2,418.5 L1024.0,418.8 L1024.6,419.4 L1025.2,420.1 L1025.5,420.8 L1025.6,421.7 L1025.7,420.8 L1026.0,420.1 L1026.5,419.4 L1027.2,418.8 L1028.0,418.5 L1028.8,418.4 L1029.7,418.5 L1030.5,418.8 L1031.2,419.4 L1031.7,420.1 L1032.0,420.8 L1032.2,421.7 L1032.8,422.8 L1033.6,424.0 L1034.5,425.1 L1035.4,426.1 L1036.5,427.1 L1037.6,427.9 L1038.9,428.6 L1040.3,429.2 L1041.8,429.7 L1043.4,430.1 L1045.2,430.3 L1047.1,430.4" fill="none" stroke="#111" stroke-width="2"/><path d="M1019.0,421.7 L1019.0,428.9" stroke="#111" stroke-width="2.1" stroke-linecap="round"/><path d="M1025.6,421.7 L1025.6,428.9" stroke="#111" stroke-width="2.1" stroke-linecap="round"/><path d="M1047.0,430.4 L1048.9,430.3 L1050.7,430.1 L1052.4,429.7 L1053.9,429.2 L1055.3,428.6 L1056.6,427.9 L1057.8,427.1 L1058.8,426.1 L1059.8,425.1 L1060.7,424.0 L1061.5,422.8 L1062.2,421.5 L1062.1,420.8 L1062.4,420.1 L1062.9,419.4 L1063.6,418.8 L1064.4,418.5 L1065.2,418.4 L1066.1,418.5 L1066.9,418.8 L1067.6,419.4 L1068.1,420.1 L1068.4,420.8 L1068.5,421.7 L1068.6,420.8 L1068.9,420.1 L1069.5,419.4 L1070.2,418.8 L1070.9,418.5 L1071.8,418.4 L1072.7,418.5 L1073.5,418.8 L1074.1,419.4 L1074.7,420.1 L1075.0,420.8 L1075.1,421.7 L1075.2,420.8 L1075.5,420.1 L1076.0,419.4 L1076.7,418.8 L1077.5,418.5 L1078.3,418.4 L1079.2,418.5 L1080.0,418.8 L1080.7,419.4 L1081.2,420.1 L1081.5,420.8 L1081.7,421.7 L1082.3,422.8 L1083.1,424.0 L1084.0,425.1 L1084.9,426.1 L1086.0,427.1 L1087.1,427.9 L1088.4,428.6 L1089.8,429.2 L1091.3,429.7 L1092.9,430.1 L1094.7,430.3 L1096.6,430.4 L1096.6,435.7 L1094.1,435.7 L1091.6,435.7 L1089.2,435.7 L1086.7,435.7 L1084.2,435.7 L1081.7,435.7 L1079.2,435.7 L1076.8,435.7 L1074.3,435.7 L1071.8,435.7 L1069.3,435.7 L1066.8,435.7 L1064.4,435.7 L1061.9,435.7 L1059.4,435.7 L1056.9,435.7 L1054.4,435.7 L1052.0,435.7 L1049.5,435.7 L1047.0,435.7Z" fill="url(#g_peach)"/><path d="M1047.0,430.4 L1048.9,430.3 L1050.7,430.1 L1052.4,429.7 L1053.9,429.2 L1055.3,428.6 L1056.6,427.9 L1057.8,427.1 L1058.8,426.1 L1059.8,425.1 L1060.7,424.0 L1061.5,422.8 L1062.2,421.5 L1062.1,420.8 L1062.4,420.1 L1062.9,419.4 L1063.6,418.8 L1064.4,418.5 L1065.2,418.4 L1066.1,418.5 L1066.9,418.8 L1067.6,419.4 L1068.1,420.1 L1068.4,420.8 L1068.5,421.7 L1068.6,420.8 L1068.9,420.1 L1069.5,419.4 L1070.2,418.8 L1070.9,418.5 L1071.8,418.4 L1072.7,418.5 L1073.5,418.8 L1074.1,419.4 L1074.7,420.1 L1075.0,420.8 L1075.1,421.7 L1075.2,420.8 L1075.5,420.1 L1076.0,419.4 L1076.7,418.8 L1077.5,418.5 L1078.3,418.4 L1079.2,418.5 L1080.0,418.8 L1080.7,419.4 L1081.2,420.1 L1081.5,420.8 L1081.7,421.7 L1082.3,422.8 L1083.1,424.0 L1084.0,425.1 L1084.9,426.1 L1086.0,427.1 L1087.1,427.9 L1088.4,428.6 L1089.8,429.2 L1091.3,429.7 L1092.9,430.1 L1094.7,430.3 L1096.6,430.4" fill="none" stroke="#111" stroke-width="2"/><path d="M1068.5,421.7 L1068.5,428.9" stroke="#111" stroke-width="2.1" stroke-linecap="round"/><path d="M1075.1,421.7 L1075.1,428.9" stroke="#111" stroke-width="2.1" stroke-linecap="round"/><path d="M1096.8,430.4 L1098.7,430.3 L1100.5,430.1 L1102.2,429.7 L1103.7,429.2 L1105.1,428.6 L1106.4,427.9 L1107.6,427.1 L1108.6,426.1 L1109.6,425.1 L1110.5,424.0 L1111.3,422.8 L1112.0,421.5 L1111.9,420.8 L1112.2,420.1 L1112.7,419.4 L1113.4,418.8 L1114.2,418.5 L1115.0,418.4 L1115.9,418.5 L1116.7,418.8 L1117.4,419.4 L1117.9,420.1 L1118.2,420.8 L1118.3,421.7 L1118.4,420.8 L1118.7,420.1 L1119.3,419.4 L1120.0,418.8 L1120.7,418.5 L1121.6,418.4 L1122.5,418.5 L1123.2,418.8 L1123.9,419.4 L1124.5,420.1 L1124.8,420.8 L1124.9,421.7 L1125.0,420.8 L1125.3,420.1 L1125.8,419.4 L1126.5,418.8 L1127.3,418.5 L1128.1,418.4 L1129.0,418.5 L1129.8,418.8 L1130.5,419.4 L1131.0,420.1 L1131.3,420.8 L1131.5,421.7 L1132.1,422.8 L1132.9,424.0 L1133.8,425.1 L1134.7,426.1 L1135.8,427.1 L1136.9,427.9 L1138.2,428.6 L1139.6,429.2 L1141.1,429.7 L1142.7,430.1 L1144.5,430.3 L1146.4,430.4 L1146.4,435.7 L1143.9,435.7 L1141.4,435.7 L1139.0,435.7 L1136.5,435.7 L1134.0,435.7 L1131.5,435.7 L1129.0,435.7 L1126.6,435.7 L1124.1,435.7 L1121.6,435.7 L1119.1,435.7 L1116.6,435.7 L1114.2,435.7 L1111.7,435.7 L1109.2,435.7 L1106.7,435.7 L1104.2,435.7 L1101.8,435.7 L1099.3,435.7 L1096.8,435.7Z" fill="url(#g_green)"/><path d="M1096.8,430.4 L1098.7,430.3 L1100.5,430.1 L1102.2,429.7 L1103.7,429.2 L1105.1,428.6 L1106.4,427.9 L1107.6,427.1 L1108.6,426.1 L1109.6,425.1 L1110.5,424.0 L1111.3,422.8 L1112.0,421.5 L1111.9,420.8 L1112.2,420.1 L1112.7,419.4 L1113.4,418.8 L1114.2,418.5 L1115.0,418.4 L1115.9,418.5 L1116.7,418.8 L1117.4,419.4 L1117.9,420.1 L1118.2,420.8 L1118.3,421.7 L1118.4,420.8 L1118.7,420.1 L1119.3,419.4 L1120.0,418.8 L1120.7,418.5 L1121.6,418.4 L1122.5,418.5 L1123.2,418.8 L1123.9,419.4 L1124.5,420.1 L1124.8,420.8 L1124.9,421.7 L1125.0,420.8 L1125.3,420.1 L1125.8,419.4 L1126.5,418.8 L1127.3,418.5 L1128.1,418.4 L1129.0,418.5 L1129.8,418.8 L1130.5,419.4 L1131.0,420.1 L1131.3,420.8 L1131.5,421.7 L1132.1,422.8 L1132.9,424.0 L1133.8,425.1 L1134.7,426.1 L1135.8,427.1 L1136.9,427.9 L1138.2,428.6 L1139.6,429.2 L1141.1,429.7 L1142.7,430.1 L1144.5,430.3 L1146.4,430.4" fill="none" stroke="#111" stroke-width="2"/><path d="M1118.3,421.7 L1118.3,428.9" stroke="#111" stroke-width="2.1" stroke-linecap="round"/><path d="M1124.9,421.7 L1124.9,428.9" stroke="#111" stroke-width="2.1" stroke-linecap="round"/><path d="M501.4,430.1 L501.4,435.7" stroke="#222" stroke-width="1.5"/><path d="M551.0,430.1 L551.0,435.7" stroke="#222" stroke-width="1.5"/><path d="M600.6,430.1 L600.6,435.7" stroke="#222" stroke-width="1.5"/><path d="M650.2,430.1 L650.2,435.7" stroke="#222" stroke-width="1.5"/><path d="M699.8,430.1 L699.8,435.7" stroke="#222" stroke-width="1.5"/><path d="M749.4,430.1 L749.4,435.7" stroke="#222" stroke-width="1.5"/><path d="M948.0,430.1 L948.0,435.7" stroke="#222" stroke-width="1.5"/><path d="M997.5,430.1 L997.5,435.7" stroke="#222" stroke-width="1.5"/><path d="M1047.0,430.1 L1047.0,435.7" stroke="#222" stroke-width="1.5"/><path d="M1096.8,430.1 L1096.8,435.7" stroke="#222" stroke-width="1.5"/>
<path d="M798.6,435.7 L799.0,435.7 L799.3,435.6 L799.7,435.5 L800.1,435.5 L800.5,435.4 L800.8,435.3 L801.2,435.2 L801.6,435.2 L801.9,435.1 L802.3,435.0 L802.7,434.9 L803.0,434.8 L803.4,434.7 L803.8,434.6 L804.1,434.5 L804.5,434.4 L804.9,434.3 L805.3,434.2 L805.6,434.1 L806.0,434.0 L806.4,433.9 L806.7,433.8 L807.1,433.7 L807.5,433.6 L807.9,433.5 L808.2,433.4 L808.6,433.2 L809.0,433.1 L809.3,433.0 L809.7,432.9 L810.1,432.8 L810.4,432.7 L810.8,432.6 L811.2,432.4 L811.6,432.3 L811.9,432.2 L812.3,432.1 L812.7,432.0 L813.0,431.9 L813.4,431.7 L813.8,431.6 L814.1,431.5 L814.5,431.4 L814.9,431.3 L815.2,431.1 L815.6,431.0 L816.0,430.9 L816.4,430.8 L816.7,430.6 L817.1,430.5 L817.5,430.4 L817.8,430.3 L818.2,430.2 L818.6,430.0 L819.0,429.9 L819.3,429.8 L819.7,429.7 L820.1,429.5 L820.4,429.4 L820.8,429.3 L821.2,429.2 L821.5,429.0 L821.9,428.9 L822.3,428.8 L822.6,428.7 L823.0,428.6 L823.4,428.4 L823.8,428.3 L824.1,428.2 L824.5,428.1 L824.9,427.9 L825.2,427.8 L825.6,427.7 L826.0,427.6 L826.4,427.5 L826.7,427.3 L827.1,427.2 L827.5,427.1 L827.8,427.0 L828.2,426.8 L828.6,426.7 L828.9,426.6 L829.3,426.5 L829.7,426.4 L830.1,426.3 L830.4,426.1 L830.8,426.0 L831.2,425.9 L831.5,425.8 L831.9,425.7 L832.3,425.6 L832.6,425.4 L833.0,425.3 L833.4,425.2 L833.8,425.1 L834.1,425.0 L834.5,424.9 L834.9,424.8 L835.2,424.7 L835.6,424.5 L836.0,424.4 L836.3,424.3 L836.7,424.2 L837.1,424.1 L837.5,424.0 L837.8,423.9 L838.2,423.8 L838.6,423.7 L838.9,423.6 L839.3,423.5 L839.7,423.4 L840.0,423.3 L840.4,423.2 L840.8,423.1 L841.1,423.0 L841.5,422.9 L841.9,422.8 L842.3,422.7 L842.6,422.6 L843.0,422.5 L843.4,422.4 L843.7,422.3 L844.1,422.2 L844.5,422.1 L844.9,422.0 L845.2,422.0 L845.6,421.9 L846.0,421.8 L846.3,421.7 L846.7,421.6 L847.1,421.5 L847.4,421.4 L847.8,421.4 L848.2,421.3 L848.6,421.2 L848.9,421.1 L849.3,421.0 L849.7,421.0 L850.0,420.9 L850.4,420.8 L850.8,420.7 L851.1,420.7 L851.5,420.6 L851.9,420.5 L852.2,420.5 L852.6,420.4 L853.0,420.3 L853.4,420.2 L853.7,420.2 L854.1,420.1 L854.5,420.1 L854.8,420.0 L855.2,419.9 L855.6,419.9 L856.0,419.8 L856.3,419.8 L856.7,419.7 L857.1,419.7 L857.4,419.6 L857.8,419.5 L858.2,419.5 L858.5,419.4 L858.9,419.4 L859.3,419.3 L859.6,419.3 L860.0,419.3 L860.4,419.2 L860.8,419.2 L861.1,419.1 L861.5,419.1 L861.9,419.1 L862.2,419.0 L862.6,419.0 L863.0,418.9 L863.4,418.9 L863.7,418.9 L864.1,418.8 L864.5,418.8 L864.8,418.8 L865.2,418.8 L865.6,418.7 L865.9,418.7 L866.3,418.7 L866.7,418.7 L867.1,418.6 L867.4,418.6 L867.8,418.6 L868.2,418.6 L868.5,418.6 L868.9,418.6 L869.3,418.6 L869.6,418.5 L870.0,418.5 L870.4,418.5 L870.8,418.5 L871.1,418.5 L871.5,418.5 L871.9,418.5 L872.2,418.5 L872.6,418.5 L873.0,418.5 L873.3,418.5 L873.7,418.5 L874.1,418.5 L874.5,418.5 L874.8,418.5 L875.2,418.5 L875.6,418.5 L875.9,418.6 L876.3,418.6 L876.7,418.6 L877.0,418.6 L877.4,418.6 L877.8,418.6 L878.1,418.6 L878.5,418.7 L878.9,418.7 L879.3,418.7 L879.6,418.7 L880.0,418.8 L880.4,418.8 L880.7,418.8 L881.1,418.8 L881.5,418.9 L881.9,418.9 L882.2,418.9 L882.6,419.0 L883.0,419.0 L883.3,419.1 L883.7,419.1 L884.1,419.1 L884.4,419.2 L884.8,419.2 L885.2,419.3 L885.6,419.3 L885.9,419.3 L886.3,419.4 L886.7,419.4 L887.0,419.5 L887.4,419.5 L887.8,419.6 L888.1,419.7 L888.5,419.7 L888.9,419.8 L889.2,419.8 L889.6,419.9 L890.0,419.9 L890.4,420.0 L890.7,420.1 L891.1,420.1 L891.5,420.2 L891.8,420.2 L892.2,420.3 L892.6,420.4 L893.0,420.5 L893.3,420.5 L893.7,420.6 L894.1,420.7 L894.4,420.7 L894.8,420.8 L895.2,420.9 L895.5,421.0 L895.9,421.0 L896.3,421.1 L896.6,421.2 L897.0,421.3 L897.4,421.4 L897.8,421.4 L898.1,421.5 L898.5,421.6 L898.9,421.7 L899.2,421.8 L899.6,421.9 L900.0,422.0 L900.4,422.0 L900.7,422.1 L901.1,422.2 L901.5,422.3 L901.8,422.4 L902.2,422.5 L902.6,422.6 L902.9,422.7 L903.3,422.8 L903.7,422.9 L904.1,423.0 L904.4,423.1 L904.8,423.2 L905.2,423.3 L905.5,423.4 L905.9,423.5 L906.3,423.6 L906.6,423.7 L907.0,423.8 L907.4,423.9 L907.8,424.0 L908.1,424.1 L908.5,424.2 L908.9,424.3 L909.2,424.4 L909.6,424.5 L910.0,424.7 L910.3,424.8 L910.7,424.9 L911.1,425.0 L911.5,425.1 L911.8,425.2 L912.2,425.3 L912.6,425.4 L912.9,425.6 L913.3,425.7 L913.7,425.8 L914.0,425.9 L914.4,426.0 L914.8,426.1 L915.1,426.3 L915.5,426.4 L915.9,426.5 L916.3,426.6 L916.6,426.7 L917.0,426.8 L917.4,427.0 L917.7,427.1 L918.1,427.2 L918.5,427.3 L918.9,427.5 L919.2,427.6 L919.6,427.7 L920.0,427.8 L920.3,427.9 L920.7,428.1 L921.1,428.2 L921.4,428.3 L921.8,428.4 L922.2,428.6 L922.6,428.7 L922.9,428.8 L923.3,428.9 L923.7,429.0 L924.0,429.2 L924.4,429.3 L924.8,429.4 L925.1,429.5 L925.5,429.7 L925.9,429.8 L926.2,429.9 L926.6,430.0 L927.0,430.2 L927.4,430.3 L927.7,430.4 L928.1,430.5 L928.5,430.6 L928.8,430.8 L929.2,430.9 L929.6,431.0 L930.0,431.1 L930.3,431.3 L930.7,431.4 L931.1,431.5 L931.4,431.6 L931.8,431.7 L932.2,431.9 L932.5,432.0 L932.9,432.1 L933.3,432.2 L933.7,432.3 L934.0,432.4 L934.4,432.6 L934.8,432.7 L935.1,432.8 L935.5,432.9 L935.9,433.0 L936.2,433.1 L936.6,433.2 L937.0,433.4 L937.4,433.5 L937.7,433.6 L938.1,433.7 L938.5,433.8 L938.8,433.9 L939.2,434.0 L939.6,434.1 L939.9,434.2 L940.3,434.3 L940.7,434.4 L941.0,434.5 L941.4,434.6 L941.8,434.7 L942.2,434.8 L942.5,434.9 L942.9,435.0 L943.3,435.1 L943.6,435.2 L944.0,435.2 L944.4,435.3 L944.8,435.4 L945.1,435.5 L945.5,435.5 L945.9,435.6 L946.2,435.7 L946.6,435.7 L946.6,435.7 Z" fill="#efeeec"/>
<path d="M798.1,431.2 L799.6,430.9 L801.2,430.3 L802.7,429.6 L804.0,428.8 L805.2,427.9 L806.2,427.0 L807.1,425.9 L807.9,424.8 L808.6,423.7 L809.1,422.5 L809.5,421.3 L809.9,420.0 L809.6,419.6 L809.7,418.8 L810.0,418.1 L810.5,417.4 L811.2,416.9 L811.9,416.6 L812.8,416.4 L813.6,416.4 L814.4,416.6 L815.1,417.0 L815.7,417.5 L816.0,418.2 L815.8,417.5 L815.9,416.7 L816.3,416.0 L816.8,415.3 L817.5,414.8 L818.3,414.4 L819.2,414.3 L820.0,414.3 L820.9,414.5 L821.6,414.9 L822.1,415.4 L822.4,416.1 L822.3,415.3 L822.4,414.6 L822.7,413.9 L823.3,413.2 L824.0,412.7 L824.8,412.3 L825.7,412.1 L826.6,412.1 L827.5,412.3 L828.2,412.7 L828.7,413.3 L829.0,414.0 L830.0,414.6 L831.1,415.4 L832.3,416.0 L833.5,416.6 L834.8,417.0 L836.1,417.4 L837.6,417.7 L839.1,417.8 L840.8,417.8 L842.5,417.7 L844.4,417.4 L846.4,417.0 L847.4,421.5 L844.9,422.0 L842.4,422.6 L840.0,423.3 L837.5,424.0 L835.1,424.7 L832.7,425.4 L830.2,426.2 L827.8,427.0 L825.4,427.8 L823.0,428.6 L820.6,429.4 L818.2,430.2 L815.7,431.0 L813.3,431.8 L810.9,432.5 L808.5,433.3 L806.0,434.0 L803.6,434.7 L801.1,435.3 L798.6,435.7Z" fill="url(#g_cyan)"/><path d="M798.1,431.2 L799.6,430.9 L801.2,430.3 L802.7,429.6 L804.0,428.8 L805.2,427.9 L806.2,427.0 L807.1,425.9 L807.9,424.8 L808.6,423.7 L809.1,422.5 L809.5,421.3 L809.9,420.0 L809.6,419.6 L809.7,418.8 L810.0,418.1 L810.5,417.4 L811.2,416.9 L811.9,416.6 L812.8,416.4 L813.6,416.4 L814.4,416.6 L815.1,417.0 L815.7,417.5 L816.0,418.2 L815.8,417.5 L815.9,416.7 L816.3,416.0 L816.8,415.3 L817.5,414.8 L818.3,414.4 L819.2,414.3 L820.0,414.3 L820.9,414.5 L821.6,414.9 L822.1,415.4 L822.4,416.1 L822.3,415.3 L822.4,414.6 L822.7,413.9 L823.3,413.2 L824.0,412.7 L824.8,412.3 L825.7,412.1 L826.6,412.1 L827.5,412.3 L828.2,412.7 L828.7,413.3 L829.0,414.0 L830.0,414.6 L831.1,415.4 L832.3,416.0 L833.5,416.6 L834.8,417.0 L836.1,417.4 L837.6,417.7 L839.1,417.8 L840.8,417.8 L842.5,417.7 L844.4,417.4 L846.4,417.0" fill="none" stroke="#111" stroke-width="2"/><path d="M816.0,418.2 L818.0,424.1" stroke="#111" stroke-width="2.1" stroke-linecap="round"/><path d="M822.4,416.1 L824.4,421.9" stroke="#111" stroke-width="2.1" stroke-linecap="round"/><path d="M846.4,417.0 L848.4,416.5 L850.2,415.9 L851.9,415.3 L853.4,414.6 L854.8,413.8 L856.1,413.0 L857.3,412.1 L858.3,411.2 L859.3,410.2 L860.2,409.1 L860.9,408.0 L861.6,406.8 L861.4,406.3 L861.7,405.5 L862.3,404.9 L863.0,404.4 L863.9,404.0 L864.9,403.9 L865.9,403.9 L866.9,404.1 L867.7,404.6 L868.3,405.1 L868.7,405.8 L868.9,406.5 L868.9,405.8 L869.3,405.1 L869.9,404.5 L870.7,404.0 L871.6,403.7 L872.6,403.6 L873.6,403.7 L874.5,404.0 L875.3,404.5 L875.9,405.1 L876.3,405.8 L876.4,406.5 L876.5,405.8 L876.9,405.1 L877.5,404.6 L878.3,404.1 L879.3,403.9 L880.3,403.9 L881.3,404.0 L882.2,404.4 L882.9,404.9 L883.5,405.5 L883.8,406.3 L883.9,407.0 L884.5,408.0 L885.3,409.1 L886.1,410.2 L887.1,411.2 L888.1,412.1 L889.2,413.0 L890.5,413.9 L891.9,414.6 L893.4,415.3 L895.0,415.9 L896.8,416.5 L898.8,417.0 L897.8,421.5 L895.3,420.9 L892.8,420.4 L890.3,420.0 L887.8,419.6 L885.3,419.3 L882.8,419.0 L880.2,418.8 L877.7,418.6 L875.1,418.5 L872.6,418.5 L870.1,418.5 L867.5,418.6 L865.0,418.8 L862.4,419.0 L859.9,419.3 L857.4,419.6 L854.9,420.0 L852.4,420.4 L849.9,420.9 L847.4,421.5Z" fill="url(#g_red)"/><path d="M846.4,417.0 L848.4,416.5 L850.2,415.9 L851.9,415.3 L853.4,414.6 L854.8,413.8 L856.1,413.0 L857.3,412.1 L858.3,411.2 L859.3,410.2 L860.2,409.1 L860.9,408.0 L861.6,406.8 L861.4,406.3 L861.7,405.5 L862.3,404.9 L863.0,404.4 L863.9,404.0 L864.9,403.9 L865.9,403.9 L866.9,404.1 L867.7,404.6 L868.3,405.1 L868.7,405.8 L868.9,406.5 L868.9,405.8 L869.3,405.1 L869.9,404.5 L870.7,404.0 L871.6,403.7 L872.6,403.6 L873.6,403.7 L874.5,404.0 L875.3,404.5 L875.9,405.1 L876.3,405.8 L876.4,406.5 L876.5,405.8 L876.9,405.1 L877.5,404.6 L878.3,404.1 L879.3,403.9 L880.3,403.9 L881.3,404.0 L882.2,404.4 L882.9,404.9 L883.5,405.5 L883.8,406.3 L883.9,407.0 L884.5,408.0 L885.3,409.1 L886.1,410.2 L887.1,411.2 L888.1,412.1 L889.2,413.0 L890.5,413.9 L891.9,414.6 L893.4,415.3 L895.0,415.9 L896.8,416.5 L898.8,417.0" fill="none" stroke="#111" stroke-width="2"/><path d="M868.9,406.5 L869.1,412.7" stroke="#111" stroke-width="2.1" stroke-linecap="round"/><path d="M876.4,406.5 L876.2,412.7" stroke="#111" stroke-width="2.1" stroke-linecap="round"/><path d="M898.8,417.0 L900.8,417.4 L902.7,417.7 L904.5,417.8 L906.1,417.8 L907.7,417.7 L909.2,417.4 L910.6,417.1 L911.9,416.6 L913.1,416.1 L914.3,415.4 L915.4,414.7 L916.5,413.9 L916.5,413.3 L917.0,412.7 L917.7,412.3 L918.6,412.1 L919.5,412.1 L920.4,412.3 L921.2,412.7 L921.9,413.2 L922.5,413.9 L922.8,414.6 L922.9,415.3 L922.8,416.1 L923.1,415.4 L923.6,414.9 L924.3,414.5 L925.2,414.3 L926.0,414.3 L926.9,414.4 L927.7,414.8 L928.4,415.3 L928.9,416.0 L929.3,416.7 L929.4,417.5 L929.2,418.2 L929.5,417.5 L930.1,417.0 L930.8,416.6 L931.6,416.4 L932.4,416.4 L933.3,416.6 L934.0,416.9 L934.7,417.4 L935.2,418.1 L935.5,418.8 L935.6,419.6 L935.5,420.3 L935.9,421.4 L936.3,422.6 L936.8,423.8 L937.5,424.9 L938.2,426.0 L939.1,427.0 L940.1,427.9 L941.2,428.8 L942.6,429.6 L944.0,430.3 L945.6,430.9 L947.1,431.2 L946.6,435.7 L944.1,435.3 L941.6,434.7 L939.2,434.0 L936.7,433.3 L934.3,432.5 L931.9,431.8 L929.5,431.0 L927.0,430.2 L924.6,429.4 L922.2,428.6 L919.8,427.8 L917.4,427.0 L915.0,426.2 L912.5,425.4 L910.1,424.7 L907.7,424.0 L905.2,423.3 L902.8,422.6 L900.3,422.0 L897.8,421.5Z" fill="url(#g_purple)"/><path d="M898.8,417.0 L900.8,417.4 L902.7,417.7 L904.5,417.8 L906.1,417.8 L907.7,417.7 L909.2,417.4 L910.6,417.1 L911.9,416.6 L913.1,416.1 L914.3,415.4 L915.4,414.7 L916.5,413.9 L916.5,413.3 L917.0,412.7 L917.7,412.3 L918.6,412.1 L919.5,412.1 L920.4,412.3 L921.2,412.7 L921.9,413.2 L922.5,413.9 L922.8,414.6 L922.9,415.3 L922.8,416.1 L923.1,415.4 L923.6,414.9 L924.3,414.5 L925.2,414.3 L926.0,414.3 L926.9,414.4 L927.7,414.8 L928.4,415.3 L928.9,416.0 L929.3,416.7 L929.4,417.5 L929.2,418.2 L929.5,417.5 L930.1,417.0 L930.8,416.6 L931.6,416.4 L932.4,416.4 L933.3,416.6 L934.0,416.9 L934.7,417.4 L935.2,418.1 L935.5,418.8 L935.6,419.6 L935.5,420.3 L935.9,421.4 L936.3,422.6 L936.8,423.8 L937.5,424.9 L938.2,426.0 L939.1,427.0 L940.1,427.9 L941.2,428.8 L942.6,429.6 L944.0,430.3 L945.6,430.9 L947.1,431.2" fill="none" stroke="#111" stroke-width="2"/><path d="M922.8,416.1 L920.9,422.0" stroke="#111" stroke-width="2.1" stroke-linecap="round"/><path d="M929.2,418.2 L927.3,424.1" stroke="#111" stroke-width="2.1" stroke-linecap="round"/><path d="M798.0,430.1 L798.6,435.7" stroke="#222" stroke-width="1.5"/><path d="M846.2,416.0 L847.4,421.5" stroke="#222" stroke-width="1.5"/><path d="M899.0,416.0 L897.8,421.5" stroke="#222" stroke-width="1.5"/><path d="M947.2,430.1 L946.6,435.7" stroke="#222" stroke-width="1.5"/>
<path d="M798.6,435.7 L799.0,435.7 L799.3,435.6 L799.7,435.5 L800.1,435.5 L800.5,435.4 L800.8,435.3 L801.2,435.2 L801.6,435.2 L801.9,435.1 L802.3,435.0 L802.7,434.9 L803.0,434.8 L803.4,434.7 L803.8,434.6 L804.1,434.5 L804.5,434.4 L804.9,434.3 L805.3,434.2 L805.6,434.1 L806.0,434.0 L806.4,433.9 L806.7,433.8 L807.1,433.7 L807.5,433.6 L807.9,433.5 L808.2,433.4 L808.6,433.2 L809.0,433.1 L809.3,433.0 L809.7,432.9 L810.1,432.8 L810.4,432.7 L810.8,432.6 L811.2,432.4 L811.6,432.3 L811.9,432.2 L812.3,432.1 L812.7,432.0 L813.0,431.9 L813.4,431.7 L813.8,431.6 L814.1,431.5 L814.5,431.4 L814.9,431.3 L815.2,431.1 L815.6,431.0 L816.0,430.9 L816.4,430.8 L816.7,430.6 L817.1,430.5 L817.5,430.4 L817.8,430.3 L818.2,430.2 L818.6,430.0 L819.0,429.9 L819.3,429.8 L819.7,429.7 L820.1,429.5 L820.4,429.4 L820.8,429.3 L821.2,429.2 L821.5,429.0 L821.9,428.9 L822.3,428.8 L822.6,428.7 L823.0,428.6 L823.4,428.4 L823.8,428.3 L824.1,428.2 L824.5,428.1 L824.9,427.9 L825.2,427.8 L825.6,427.7 L826.0,427.6 L826.4,427.5 L826.7,427.3 L827.1,427.2 L827.5,427.1 L827.8,427.0 L828.2,426.8 L828.6,426.7 L828.9,426.6 L829.3,426.5 L829.7,426.4 L830.1,426.3 L830.4,426.1 L830.8,426.0 L831.2,425.9 L831.5,425.8 L831.9,425.7 L832.3,425.6 L832.6,425.4 L833.0,425.3 L833.4,425.2 L833.8,425.1 L834.1,425.0 L834.5,424.9 L834.9,424.8 L835.2,424.7 L835.6,424.5 L836.0,424.4 L836.3,424.3 L836.7,424.2 L837.1,424.1 L837.5,424.0 L837.8,423.9 L838.2,423.8 L838.6,423.7 L838.9,423.6 L839.3,423.5 L839.7,423.4 L840.0,423.3 L840.4,423.2 L840.8,423.1 L841.1,423.0 L841.5,422.9 L841.9,422.8 L842.3,422.7 L842.6,422.6 L843.0,422.5 L843.4,422.4 L843.7,422.3 L844.1,422.2 L844.5,422.1 L844.9,422.0 L845.2,422.0 L845.6,421.9 L846.0,421.8 L846.3,421.7 L846.7,421.6 L847.1,421.5 L847.4,421.4 L847.8,421.4 L848.2,421.3 L848.6,421.2 L848.9,421.1 L849.3,421.0 L849.7,421.0 L850.0,420.9 L850.4,420.8 L850.8,420.7 L851.1,420.7 L851.5,420.6 L851.9,420.5 L852.2,420.5 L852.6,420.4 L853.0,420.3 L853.4,420.2 L853.7,420.2 L854.1,420.1 L854.5,420.1 L854.8,420.0 L855.2,419.9 L855.6,419.9 L856.0,419.8 L856.3,419.8 L856.7,419.7 L857.1,419.7 L857.4,419.6 L857.8,419.5 L858.2,419.5 L858.5,419.4 L858.9,419.4 L859.3,419.3 L859.6,419.3 L860.0,419.3 L860.4,419.2 L860.8,419.2 L861.1,419.1 L861.5,419.1 L861.9,419.1 L862.2,419.0 L862.6,419.0 L863.0,418.9 L863.4,418.9 L863.7,418.9 L864.1,418.8 L864.5,418.8 L864.8,418.8 L865.2,418.8 L865.6,418.7 L865.9,418.7 L866.3,418.7 L866.7,418.7 L867.1,418.6 L867.4,418.6 L867.8,418.6 L868.2,418.6 L868.5,418.6 L868.9,418.6 L869.3,418.6 L869.6,418.5 L870.0,418.5 L870.4,418.5 L870.8,418.5 L871.1,418.5 L871.5,418.5 L871.9,418.5 L872.2,418.5 L872.6,418.5 L873.0,418.5 L873.3,418.5 L873.7,418.5 L874.1,418.5 L874.5,418.5 L874.8,418.5 L875.2,418.5 L875.6,418.5 L875.9,418.6 L876.3,418.6 L876.7,418.6 L877.0,418.6 L877.4,418.6 L877.8,418.6 L878.1,418.6 L878.5,418.7 L878.9,418.7 L879.3,418.7 L879.6,418.7 L880.0,418.8 L880.4,418.8 L880.7,418.8 L881.1,418.8 L881.5,418.9 L881.9,418.9 L882.2,418.9 L882.6,419.0 L883.0,419.0 L883.3,419.1 L883.7,419.1 L884.1,419.1 L884.4,419.2 L884.8,419.2 L885.2,419.3 L885.6,419.3 L885.9,419.3 L886.3,419.4 L886.7,419.4 L887.0,419.5 L887.4,419.5 L887.8,419.6 L888.1,419.7 L888.5,419.7 L888.9,419.8 L889.2,419.8 L889.6,419.9 L890.0,419.9 L890.4,420.0 L890.7,420.1 L891.1,420.1 L891.5,420.2 L891.8,420.2 L892.2,420.3 L892.6,420.4 L893.0,420.5 L893.3,420.5 L893.7,420.6 L894.1,420.7 L894.4,420.7 L894.8,420.8 L895.2,420.9 L895.5,421.0 L895.9,421.0 L896.3,421.1 L896.6,421.2 L897.0,421.3 L897.4,421.4 L897.8,421.4 L898.1,421.5 L898.5,421.6 L898.9,421.7 L899.2,421.8 L899.6,421.9 L900.0,422.0 L900.4,422.0 L900.7,422.1 L901.1,422.2 L901.5,422.3 L901.8,422.4 L902.2,422.5 L902.6,422.6 L902.9,422.7 L903.3,422.8 L903.7,422.9 L904.1,423.0 L904.4,423.1 L904.8,423.2 L905.2,423.3 L905.5,423.4 L905.9,423.5 L906.3,423.6 L906.6,423.7 L907.0,423.8 L907.4,423.9 L907.8,424.0 L908.1,424.1 L908.5,424.2 L908.9,424.3 L909.2,424.4 L909.6,424.5 L910.0,424.7 L910.3,424.8 L910.7,424.9 L911.1,425.0 L911.5,425.1 L911.8,425.2 L912.2,425.3 L912.6,425.4 L912.9,425.6 L913.3,425.7 L913.7,425.8 L914.0,425.9 L914.4,426.0 L914.8,426.1 L915.1,426.3 L915.5,426.4 L915.9,426.5 L916.3,426.6 L916.6,426.7 L917.0,426.8 L917.4,427.0 L917.7,427.1 L918.1,427.2 L918.5,427.3 L918.9,427.5 L919.2,427.6 L919.6,427.7 L920.0,427.8 L920.3,427.9 L920.7,428.1 L921.1,428.2 L921.4,428.3 L921.8,428.4 L922.2,428.6 L922.6,428.7 L922.9,428.8 L923.3,428.9 L923.7,429.0 L924.0,429.2 L924.4,429.3 L924.8,429.4 L925.1,429.5 L925.5,429.7 L925.9,429.8 L926.2,429.9 L926.6,430.0 L927.0,430.2 L927.4,430.3 L927.7,430.4 L928.1,430.5 L928.5,430.6 L928.8,430.8 L929.2,430.9 L929.6,431.0 L930.0,431.1 L930.3,431.3 L930.7,431.4 L931.1,431.5 L931.4,431.6 L931.8,431.7 L932.2,431.9 L932.5,432.0 L932.9,432.1 L933.3,432.2 L933.7,432.3 L934.0,432.4 L934.4,432.6 L934.8,432.7 L935.1,432.8 L935.5,432.9 L935.9,433.0 L936.2,433.1 L936.6,433.2 L937.0,433.4 L937.4,433.5 L937.7,433.6 L938.1,433.7 L938.5,433.8 L938.8,433.9 L939.2,434.0 L939.6,434.1 L939.9,434.2 L940.3,434.3 L940.7,434.4 L941.0,434.5 L941.4,434.6 L941.8,434.7 L942.2,434.8 L942.5,434.9 L942.9,435.0 L943.3,435.1 L943.6,435.2 L944.0,435.2 L944.4,435.3 L944.8,435.4 L945.1,435.5 L945.5,435.5 L945.9,435.6 L946.2,435.7 L946.6,435.7" fill="none" stroke="#111" stroke-width="2.2"/>
<path d="M501,435.7 L1146,435.7" stroke="#111" stroke-width="2.1"/>
<rect x="495" y="405" width="19" height="35" fill="#fff"/>
<rect x="513" y="405" width="17" height="35" fill="url(#fadeL)"/>
<rect x="1113" y="405" width="20" height="35" fill="url(#fadeR)"/>
<rect x="1132" y="405" width="15" height="35" fill="#fff"/>
<path d="M777.0,422.0 C776.7,420.9 776.6,418.5 775.2,415.5 C773.8,412.5 770.3,408.0 768.5,403.8 C766.7,399.6 765.3,395.4 764.3,390.4 C763.3,385.4 762.4,379.2 762.6,373.6 C762.8,368.0 764.0,362.4 765.3,356.8 C766.6,351.2 768.0,346.3 770.3,340.0 C772.6,333.7 776.5,324.6 779.0,318.8 C781.5,313.0 783.2,309.9 785.5,305.4 C787.8,300.9 790.0,296.5 793.0,292.0 C796.0,287.5 799.7,282.5 803.7,278.6 C807.7,274.7 812.1,271.6 817.1,268.5 C822.1,265.4 828.3,262.3 833.9,260.1 C839.5,257.9 845.0,256.6 850.7,255.4 C856.4,254.2 862.0,253.3 868.0,253.2 C874.0,253.1 880.9,253.7 886.8,255.0 C892.7,256.3 898.1,258.2 903.6,261.0 C909.1,263.8 914.8,267.8 919.5,271.5 C924.2,275.2 928.0,279.5 932.0,283.5 C936.0,287.5 940.4,290.9 943.8,295.4 C947.2,299.9 949.4,305.5 952.2,310.5 C955.0,315.5 958.4,320.7 960.6,325.6 C962.9,330.5 964.0,334.8 965.7,340.0 C967.4,345.2 969.6,351.2 970.7,356.8 C971.8,362.4 972.3,368.0 972.4,373.6 C972.5,379.2 972.1,385.4 971.5,390.4 C970.9,395.4 970.2,399.6 969.0,403.8 C967.8,408.0 965.7,411.9 964.0,415.5 C962.3,419.1 960.7,423.1 959.0,425.6 C957.3,428.1 955.9,429.3 953.9,430.6 C951.9,431.9 948.3,433.1 947.2,433.6" fill="none" stroke="#111" stroke-width="2.8"/>
<path d="M799.6,316.6 L833.9,329.5 L834.3,346.2 L817.7,365.5 L824.2,400.6 L810.3,398.8 L803.8,360.9 L824.2,341.5 L799.6,329.5Z" fill="url(#gcyan)" stroke="#111" stroke-width="2"/>
<path d="M853.5,312.0 L886.7,327.7 L886.7,342.4 L867.3,360.9 L870.0,396.9 L857.1,394.1 L853.5,357.2 L875.6,337.8 L852.5,325.8Z" fill="url(#gred)" stroke="#111" stroke-width="2"/>
<path d="M957.2,281.7 L979.5,312.3 L972.5,326.3 L945.5,333.4 L933.7,366.2 L923.2,359.2 L936.1,325.2 L970.1,317.0 L950.2,292.3Z" fill="url(#gpur)" stroke="#111" stroke-width="2"/>
<radialGradient id="b0" cx="0.5" cy="0.45" r="0.55"><stop offset="0" stop-color="#d6e2c3"/><stop offset="1" stop-color="#a4c07a"/></radialGradient><radialGradient id="b1" cx="0.5" cy="0.45" r="0.55"><stop offset="0" stop-color="#c4e7f4"/><stop offset="1" stop-color="#7ecbe8"/></radialGradient><radialGradient id="b2" cx="0.5" cy="0.45" r="0.55"><stop offset="0" stop-color="#c0c5e3"/><stop offset="1" stop-color="#737fc2"/></radialGradient><radialGradient id="b3" cx="0.5" cy="0.45" r="0.55"><stop offset="0" stop-color="#edbbb4"/><stop offset="1" stop-color="#d9685a"/></radialGradient><radialGradient id="b4" cx="0.5" cy="0.45" r="0.55"><stop offset="0" stop-color="#f2e3d8"/><stop offset="1" stop-color="#e4c2aa"/></radialGradient><radialGradient id="b5" cx="0.5" cy="0.45" r="0.55"><stop offset="0" stop-color="#edeadf"/><stop offset="1" stop-color="#d8d2b8"/></radialGradient><radialGradient id="b6" cx="0.5" cy="0.45" r="0.55"><stop offset="0" stop-color="#f1e3b4"/><stop offset="1" stop-color="#e0c25a"/></radialGradient><radialGradient id="b7" cx="0.5" cy="0.45" r="0.55"><stop offset="0" stop-color="#edeadf"/><stop offset="1" stop-color="#d8d2b8"/></radialGradient><radialGradient id="b8" cx="0.5" cy="0.45" r="0.55"><stop offset="0" stop-color="#c0c5e3"/><stop offset="1" stop-color="#737fc2"/></radialGradient><radialGradient id="b9" cx="0.5" cy="0.45" r="0.55"><stop offset="0" stop-color="#f2e3d8"/><stop offset="1" stop-color="#e4c2aa"/></radialGradient><radialGradient id="b10" cx="0.5" cy="0.45" r="0.55"><stop offset="0" stop-color="#d6e2c3"/><stop offset="1" stop-color="#a4c07a"/></radialGradient><radialGradient id="b11" cx="0.5" cy="0.45" r="0.55"><stop offset="0" stop-color="#c4e7f4"/><stop offset="1" stop-color="#7ecbe8"/></radialGradient><radialGradient id="b12" cx="0.5" cy="0.45" r="0.55"><stop offset="0" stop-color="#f2e3d8"/><stop offset="1" stop-color="#e4c2aa"/></radialGradient><radialGradient id="b13" cx="0.5" cy="0.45" r="0.55"><stop offset="0" stop-color="#f1e3b4"/><stop offset="1" stop-color="#e0c25a"/></radialGradient><radialGradient id="b14" cx="0.5" cy="0.45" r="0.55"><stop offset="0" stop-color="#f2d7d0"/><stop offset="1" stop-color="#e3a898"/></radialGradient><radialGradient id="b15" cx="0.5" cy="0.45" r="0.55"><stop offset="0" stop-color="#c4e7f4"/><stop offset="1" stop-color="#7ecbe8"/></radialGradient><path d="M917.5,150.3 L901.1,143.9 L883.5,141.6 L869.6,152.4 L878.0,168.3 L892.3,179.3 L879.9,191.7 L864.6,200.4 L848.1,206.9 L835.2,218.7 L845.3,232.8 L850.5,248.5 L853.5,266.6 L855.0,283.3 L855.7,301.5" fill="none" stroke="#111" stroke-width="2.4"/><circle cx="917.5" cy="150.3" r="7.3" fill="url(#b0)" stroke="#111" stroke-width="2"/><circle cx="901.1" cy="143.9" r="7.3" fill="url(#b1)" stroke="#111" stroke-width="2"/><circle cx="883.5" cy="141.6" r="7.3" fill="url(#b2)" stroke="#111" stroke-width="2"/><circle cx="869.6" cy="152.4" r="7.3" fill="url(#b3)" stroke="#111" stroke-width="2"/><circle cx="878.0" cy="168.3" r="7.3" fill="url(#b4)" stroke="#111" stroke-width="2"/><circle cx="892.3" cy="179.3" r="7.3" fill="url(#b5)" stroke="#111" stroke-width="2"/><circle cx="879.9" cy="191.7" r="7.3" fill="url(#b6)" stroke="#111" stroke-width="2"/><circle cx="864.6" cy="200.4" r="7.3" fill="url(#b7)" stroke="#111" stroke-width="2"/><circle cx="848.1" cy="206.9" r="7.3" fill="url(#b8)" stroke="#111" stroke-width="2"/><circle cx="835.2" cy="218.7" r="7.3" fill="url(#b9)" stroke="#111" stroke-width="2"/><circle cx="845.3" cy="232.8" r="7.3" fill="url(#b10)" stroke="#111" stroke-width="2"/><circle cx="850.5" cy="248.5" r="7.3" fill="url(#b11)" stroke="#111" stroke-width="2"/><circle cx="853.5" cy="266.6" r="7.3" fill="url(#b12)" stroke="#111" stroke-width="2"/><circle cx="855.0" cy="283.3" r="7.3" fill="url(#b13)" stroke="#111" stroke-width="2"/><circle cx="855.7" cy="301.5" r="7.3" fill="url(#b14)" stroke="#111" stroke-width="2"/><circle cx="799.4" cy="308.0" r="7.3" fill="url(#b15)" stroke="#111" stroke-width="2"/>
<path d="M874,133.4 L815,133.4 Q807.6,133.4 807.6,141 L807.6,186 Q807.6,194.1 800,194.1 L775.2,194.1 M800,194.1 Q807.6,194.1 807.6,202 L807.6,246.5 Q807.6,254.4 815,254.4 L840,254.4" fill="none" stroke="#111" stroke-width="2.9"/>
<path d="M892.3,179.5 L964.0,179.5" stroke="#111" stroke-width="2.8" stroke-linecap="butt"/>
<path d="M716.7,310.3 L782.1,328.8" stroke="#111" stroke-width="2.8" stroke-linecap="butt"/>
<path d="M972.5,312.3 L1005.1,283.1" stroke="#111" stroke-width="2.8" stroke-linecap="butt"/>
<path d="M1100.7,369.7 L1080.0,428.8" stroke="#111" stroke-width="2.8" stroke-linecap="butt"/>
<path d="M926.2,458.0 L1000.3,495.0" stroke="#111" stroke-width="2.8" stroke-linecap="butt"/>
<path d="M439.8,171.0 L775.0,298.2" stroke="#111" stroke-width="2.9"/><path d="M789.0,303.5 L771.2,302.6 L775.1,292.3 Z" fill="#111"/>
<path d="M439.9,354.2 L876.7,443.4" stroke="#111" stroke-width="2.9"/><path d="M891.4,446.4 L873.6,448.4 L875.8,437.6 Z" fill="#111"/>
<path d="M440.1,520.3 L785.0,439.8" stroke="#111" stroke-width="2.9"/><path d="M799.6,436.4 L784.3,445.6 L781.8,434.9 Z" fill="#111"/>
<g font-family="Liberation Sans, sans-serif"><text x="701.3" y="186.1" font-size="24.5"  fill="#111" textLength="68.1" lengthAdjust="spacingAndGlyphs">amino</text><text x="701.3" y="214.0" font-size="24.5"  fill="#111" textLength="58.4" lengthAdjust="spacingAndGlyphs">acids</text><text x="974.9" y="186.8" font-size="24.5"  fill="#111" textLength="222.4" lengthAdjust="spacingAndGlyphs">growing polypeptide</text><text x="974.9" y="214.0" font-size="24.5"  fill="#111" textLength="59.8" lengthAdjust="spacingAndGlyphs">chain</text><text x="599.9" y="315.4" font-size="24.5"  fill="#111" textLength="107.9" lengthAdjust="spacingAndGlyphs">50S large</text><text x="599.9" y="343.6" font-size="24.5"  fill="#111" textLength="81.3" lengthAdjust="spacingAndGlyphs">subunit</text><text x="1016.8" y="290.2" font-size="24.5"  fill="#111" textLength="59.7" lengthAdjust="spacingAndGlyphs">tRNA</text><text x="1065.9" y="364.6" font-size="24.5"  fill="#111" textLength="74.5" lengthAdjust="spacingAndGlyphs">mRNA</text><text x="1009.8" y="502.9" font-size="24.5"  fill="#111" textLength="110.6" lengthAdjust="spacingAndGlyphs">30S small</text><text x="1009.8" y="530.5" font-size="24.5"  fill="#111" textLength="81.3" lengthAdjust="spacingAndGlyphs">subunit</text><text x="486.1" y="436.5" font-size="24" font-weight="bold" fill="#c8174f" textLength="15.8" lengthAdjust="spacingAndGlyphs">3</text><path d="M502.3,424.2 L504.3,424.2 L508.3,415.2 L505.9,415.2 Z" fill="#c8174f"/><text x="1142.8" y="436.5" font-size="24" font-weight="bold" fill="#c8174f" textLength="15.3" lengthAdjust="spacingAndGlyphs">5</text><path d="M1159.1,423.2 L1161.1,423.2 L1164.6,415.2 L1162.2,415.2 Z" fill="#c8174f"/></g>
</svg>
</body></html>
